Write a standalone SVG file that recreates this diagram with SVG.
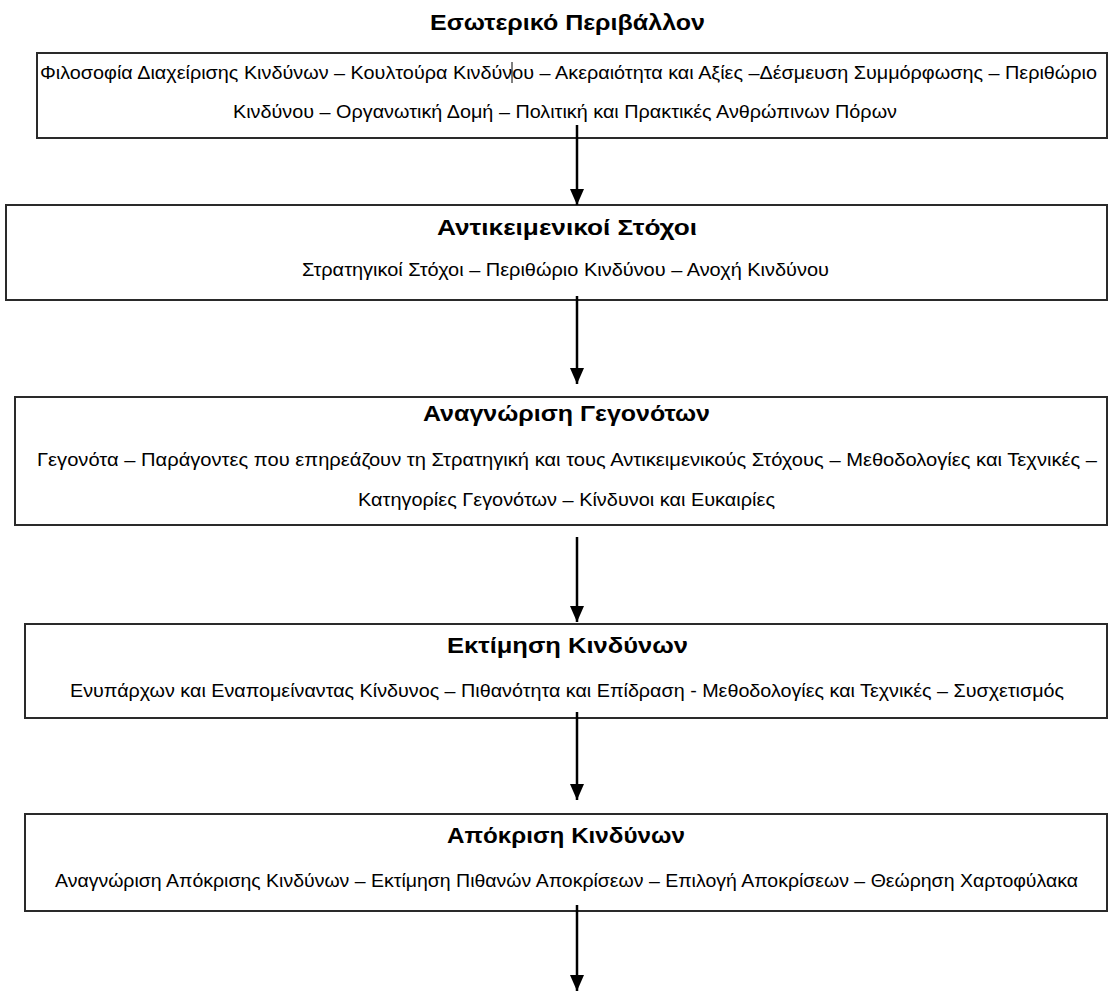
<svg xmlns="http://www.w3.org/2000/svg" width="1110" height="995" viewBox="0 0 1110 995">
  <defs>
    <marker id="arrowhead" markerUnits="userSpaceOnUse" markerWidth="16" markerHeight="14" refX="16" refY="7" orient="auto" viewBox="0 0 16 14">
      <path d="M0,0 L16,7 L0,14 Z" fill="#000"/>
    </marker>
    <style>
      .box { fill: #fff; stroke: #2a2a2a; stroke-width: 2; }
      .title { font-family: "Liberation Sans", "DejaVu Sans", sans-serif; font-weight: bold; font-size: 22px; fill: #000; text-anchor: start; }
      .body { font-family: "Liberation Sans", "DejaVu Sans", sans-serif; font-size: 18px; fill: #000; text-anchor: start; }
      .flow { stroke: #000; stroke-width: 2.5; fill: none; }
    </style>
  </defs>
  <rect width="1110" height="995" fill="#fff"/>

  <!-- Internal environment -->
  <g id="internal-environment">
    <text class="title" x="430" y="30" textLength="275" lengthAdjust="spacingAndGlyphs">Εσωτερικό Περιβάλλον</text>
    <rect class="box" x="37" y="53" width="1070" height="85"/>
    <text class="body" x="40" y="79" textLength="1057" lengthAdjust="spacingAndGlyphs">Φιλοσοφία Διαχείρισης Κινδύνων – Κουλτούρα Κινδύνου – Ακεραιότητα και Αξίες –Δέσμευση Συμμόρφωσης – Περιθώριο</text>
    <line x1="512" y1="62" x2="512" y2="83" stroke="#000" stroke-width="1"/>
    <text class="body" x="233" y="118" textLength="664" lengthAdjust="spacingAndGlyphs">Κινδύνου – Οργανωτική Δομή – Πολιτική και Πρακτικές Ανθρώπινων Πόρων</text>
  </g>

  <!-- Objectives -->
  <g id="objectives">
    <rect class="box" x="6" y="205" width="1101" height="95"/>
    <text class="title" x="437" y="235" textLength="260" lengthAdjust="spacingAndGlyphs">Αντικειμενικοί Στόχοι</text>
    <text class="body" x="302" y="276" textLength="527" lengthAdjust="spacingAndGlyphs">Στρατηγικοί Στόχοι – Περιθώριο Κινδύνου – Ανοχή Κινδύνου</text>
  </g>

  <!-- Event identification -->
  <g id="event-identification">
    <rect class="box" x="15" y="397" width="1092" height="128"/>
    <text class="title" x="423" y="421" textLength="287" lengthAdjust="spacingAndGlyphs">Αναγνώριση Γεγονότων</text>
    <text class="body" x="37" y="466" textLength="1060" lengthAdjust="spacingAndGlyphs">Γεγονότα – Παράγοντες που επηρεάζουν τη Στρατηγική και τους Αντικειμενικούς Στόχους – Μεθοδολογίες και Τεχνικές –</text>
    <text class="body" x="358" y="506" textLength="417" lengthAdjust="spacingAndGlyphs">Κατηγορίες Γεγονότων – Κίνδυνοι και Ευκαιρίες</text>
  </g>

  <!-- Risk assessment -->
  <g id="risk-assessment">
    <rect class="box" x="25" y="624" width="1082" height="94"/>
    <text class="title" x="447" y="653" textLength="241" lengthAdjust="spacingAndGlyphs">Εκτίμηση Κινδύνων</text>
    <text class="body" x="70" y="697" textLength="994" lengthAdjust="spacingAndGlyphs">Ενυπάρχων και Εναπομείναντας Κίνδυνος – Πιθανότητα και Επίδραση - Μεθοδολογίες και Τεχνικές – Συσχετισμός</text>
  </g>

  <!-- Risk response -->
  <g id="risk-response">
    <rect class="box" x="25" y="814" width="1082" height="97"/>
    <text class="title" x="447" y="843" textLength="238" lengthAdjust="spacingAndGlyphs">Απόκριση Κινδύνων</text>
    <text class="body" x="55" y="887" textLength="1023" lengthAdjust="spacingAndGlyphs">Αναγνώριση Απόκρισης Κινδύνων – Εκτίμηση Πιθανών Αποκρίσεων – Επιλογή Αποκρίσεων – Θεώρηση Χαρτοφύλακα</text>
  </g>

  <!-- Connectors -->
  <g id="connectors">
    <line class="flow" x1="577" y1="125" x2="577" y2="205" marker-end="url(#arrowhead)"/>
    <line class="flow" x1="577" y1="296" x2="577" y2="384" marker-end="url(#arrowhead)"/>
    <line class="flow" x1="577" y1="537" x2="577" y2="622" marker-end="url(#arrowhead)"/>
    <line class="flow" x1="577" y1="712" x2="577" y2="800" marker-end="url(#arrowhead)"/>
    <line class="flow" x1="577" y1="905" x2="577" y2="991" marker-end="url(#arrowhead)"/>
  </g>
</svg>
